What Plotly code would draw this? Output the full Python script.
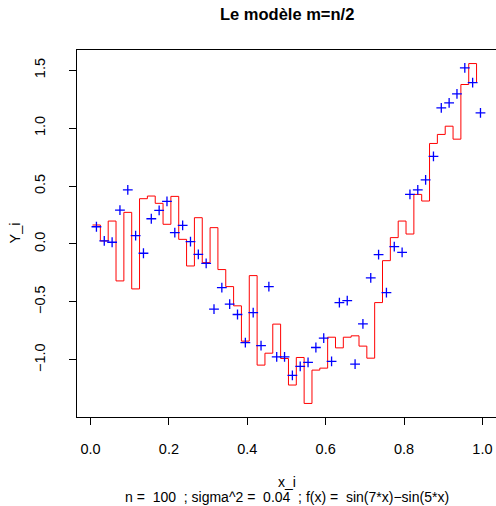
import plotly.graph_objects as go

# Observed points (every other x_i = (i-0.5)/100, i even)
x_points = [0.015 + 0.02 * k for k in range(50)]
y_points = [0.149, 0.026, 0.015, 0.293, 0.468, 0.072, -0.080, 0.218, 0.291, 0.368,
            0.098, 0.161, 0.020, -0.089, -0.167, -0.563, -0.377, -0.520, -0.609, -0.851,
            -0.592, -0.877, -0.368, -0.974, -0.974, -1.135, -1.057, -1.023, -0.894, -0.813,
            -1.014, -0.506, -0.489, -1.037, -0.690, -0.293, -0.092, -0.420, -0.023, -0.072,
            0.428, 0.468, 0.554, 0.756, 1.175, 1.218, 1.296, 1.520, 1.394, 1.132]

# Step estimator (m = n/2 cells), drawn as R type="s"
x_steps = [0.005 + 0.02 * k for k in range(50)]
y_steps = [0.164, 0.026, 0.198, -0.319, 0.273, -0.388, 0.391, 0.414, 0.351, 0.170,
           0.411, 0.040, -0.190, 0.227, -0.161, 0.141, -0.221, -0.368, -0.534, -0.839,
           -0.273, -1.046, -0.943, -0.692, -0.989, -1.218, -0.980, -1.377, -1.089, -1.072,
           -0.805, -0.897, -0.805, -0.793, -0.882, -0.986, -0.506, -0.144, 0.055, 0.198,
           0.086, 0.428, 0.371, 0.868, 0.946, 1.017, 0.905, 1.377, 1.558, 1.394]

x_ticks = [0.0, 0.2, 0.4, 0.6, 0.8, 1.0]
y_ticks = [-1.0, -0.5, 0.0, 0.5, 1.0, 1.5]

FONT = "Liberation Sans, Arial, Helvetica, sans-serif"
FS = 14.5
FS_SUB = 14

fig = go.Figure()
fig.add_trace(go.Scatter(
    x=x_steps, y=y_steps, mode="lines",
    line=dict(color="red", width=1, shape="hv"),
    showlegend=False, hoverinfo="skip"))
fig.add_trace(go.Scatter(
    x=x_points, y=y_points, mode="markers",
    marker=dict(symbol="cross-thin", size=7, line=dict(color="blue", width=1.3), color="blue"),
    showlegend=False))

axis_common = dict(showgrid=False, zeroline=False, showline=True, mirror=True,
                   linecolor="black", linewidth=1, ticks="outside", ticklen=7,
                   tickwidth=1, tickcolor="black",
                   tickfont=dict(family=FONT, size=FS, color="black"))

fig.update_xaxes(range=[-0.0346, 1.0346], tickvals=x_ticks, tickformat=".1f",
                 ticklabelstandoff=12, **axis_common)
fig.update_yaxes(range=[-1.494, 1.675], tickvals=y_ticks, tickformat=".1f",
                 tickangle=-90, ticklabelstandoff=18, **axis_common)

fig.add_annotation(text="<b>Le modèle m=n/2</b>", xref="paper", yref="paper",
                   x=0.5, y=1, yshift=36, xanchor="center", yanchor="middle",
                   showarrow=False, font=dict(family=FONT, size=16.5, color="black"))
fig.add_annotation(text="x_i", xref="paper", yref="paper", x=0.5, y=0,
                   yshift=-65, xanchor="center", yanchor="middle", showarrow=False,
                   font=dict(family=FONT, size=FS_SUB, color="black"))
fig.add_annotation(text="n =  100  ; sigma^2 =  0.04  ; f(x) =  sin(7*x)\u2212sin(5*x)",
                   xref="paper", yref="paper", x=0.5, y=0, yshift=-80,
                   xanchor="center", yanchor="middle",
                   showarrow=False, font=dict(family=FONT, size=FS_SUB, color="black"))
fig.add_annotation(text="Y_i", xref="paper", yref="paper", x=0, y=0.5,
                   xshift=-63, xanchor="center", yanchor="middle",
                   textangle=-90, showarrow=False,
                   font=dict(family=FONT, size=FS, color="black"))

fig.update_layout(width=496, height=506, margin=dict(l=77, r=0, t=50, b=89),
                  paper_bgcolor="white", plot_bgcolor="white",
                  font=dict(family=FONT, size=FS, color="black"))

fig.write_html("out.html")
